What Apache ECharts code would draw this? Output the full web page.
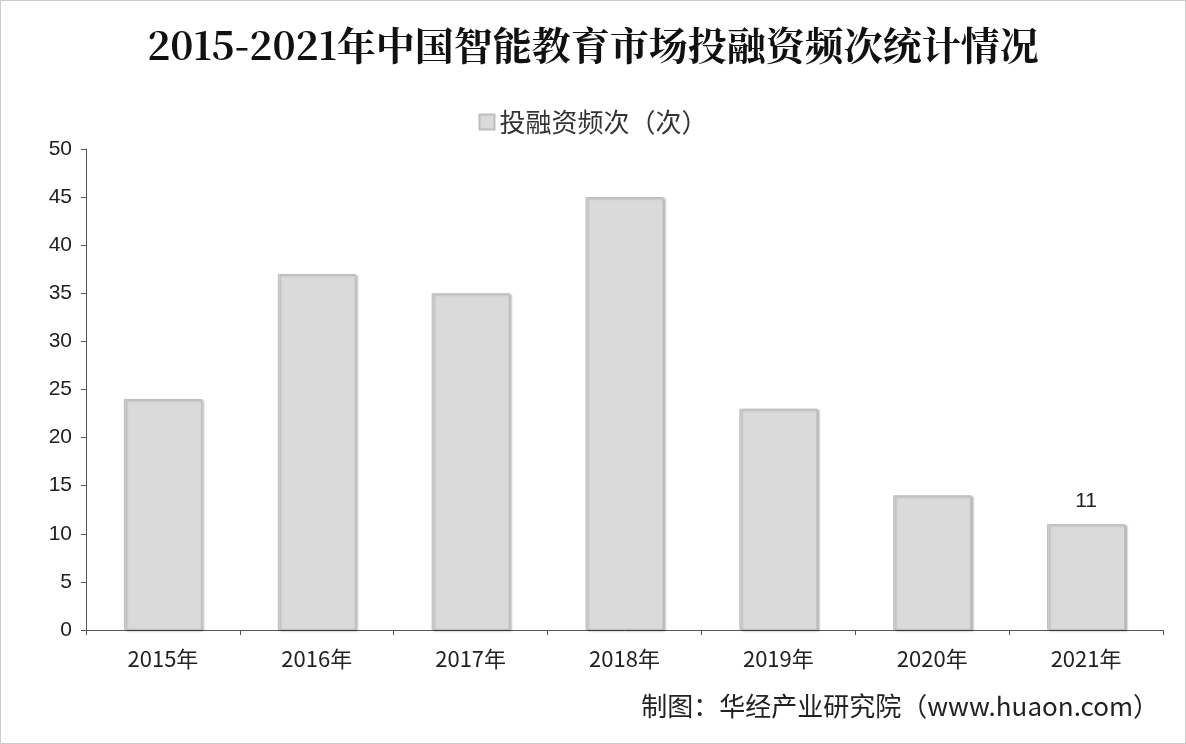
<!DOCTYPE html>
<html><head><meta charset="utf-8">
<script src="https://cdn.jsdelivr.net/npm/echarts@6/dist/echarts.min.js"></script>
<style>html,body{margin:0;padding:0;background:#fff}#c{width:1186px;height:744px;box-sizing:border-box;border:1px solid #ccc}</style>
</head><body><div id="c"></div>
<script>
const categories = ['2015年','2016年','2017年','2018年','2019年','2020年','2021年'];
const values = [24, 37, 35, 45, 23, 14, 11];
const seriesName = '投融资频次（次）';
const chart = echarts.init(document.getElementById('c'));
chart.setOption({
  backgroundColor: '#fff',
  title: { text: '2015-2021年中国智能教育市场投融资频次统计情况', left: 'center', top: 20,
    textStyle: { fontFamily: 'Noto Serif CJK SC, Noto Sans CJK SC, serif', fontSize: 39, fontWeight: 'bold', color: '#111' } },
  legend: { top: 103, left: 'center', itemWidth: 15, itemHeight: 15, icon: 'rect', itemGap: 8,
    textStyle: { fontSize: 26, color: '#333', fontFamily: 'Noto Sans CJK SC' } },
  grid: { left: 85, right: 22, top: 148, bottom: 113 },
  xAxis: { type: 'category', data: categories,
    axisLine: { lineStyle: { color: '#555' } }, axisTick: { show: true, lineStyle: { color: '#555' } },
    axisLabel: { fontSize: 22, color: '#222', margin: 18, fontFamily: 'Noto Sans CJK SC' } },
  yAxis: { type: 'value', min: 0, max: 50, interval: 5,
    splitLine: { show: false },
    axisLine: { show: true, lineStyle: { color: '#555' } }, axisTick: { show: true, lineStyle: { color: '#555' } },
    axisLabel: { fontSize: 21, color: '#222', margin: 14 } },
  series: [{ name: seriesName, type: 'bar', data: values, barWidth: 78,
    itemStyle: { color: '#dadada', borderColor: '#bdbdbd', borderWidth: 1, shadowColor: 'rgba(0,0,0,0.25)', shadowOffsetX: 2, shadowOffsetY: 1, shadowBlur: 2 },
    label: { show: true, position: 'top', fontSize: 21, color: '#222', distance: 12,
      formatter: p => p.dataIndex === values.length - 1 ? String(p.value) : '' } }],
  graphic: [{ type: 'text', right: 26, top: 692,
    style: { text: '制图：华经产业研究院（www.huaon.com）', fontSize: 26, fill: '#222', fontFamily: 'Noto Sans CJK SC' } }]
});
</script></body></html>
